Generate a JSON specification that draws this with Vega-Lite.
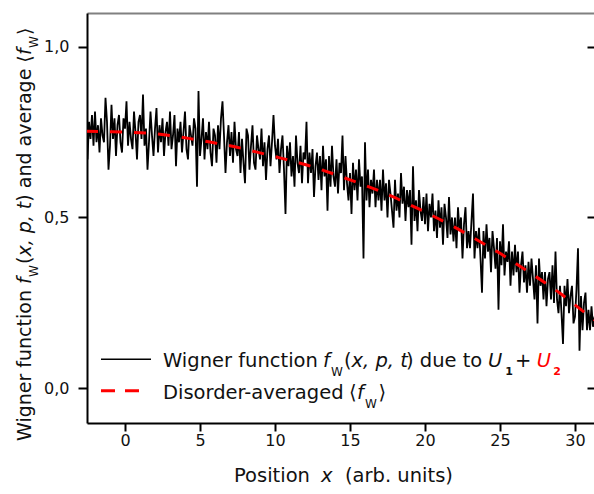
{
"$schema":"https://vega.github.io/schema/vega-lite/v6.json",
"width":507,"height":410,
"autosize":{"type":"none"},
"padding":{"left":87,"top":13,"right":0,"bottom":71},
"background":"white",
"config":{"view":{"stroke":null},"font":"DejaVu Sans","axis":{"grid":false}},
"datasets":{
"noisy":[
{"x":-2.5,"y":0.67},{"x":-2.4,"y":0.78},{"x":-2.3,"y":0.73},{"x":-2.2,"y":0.80},{"x":-2.1,"y":0.71},
{"x":-2.0,"y":0.81},{"x":-1.9,"y":0.72},{"x":-1.8,"y":0.77},{"x":-1.7,"y":0.69},{"x":-1.6,"y":0.79},{"x":-1.5,"y":0.74},{"x":-1.4,"y":0.72},{"x":-1.3,"y":0.85},{"x":-1.2,"y":0.78},{"x":-1.1,"y":0.64},
{"x":-1.0,"y":0.71},{"x":-0.9,"y":0.83},{"x":-0.8,"y":0.73},{"x":-0.7,"y":0.79},{"x":-0.6,"y":0.68},{"x":-0.5,"y":0.77},{"x":-0.4,"y":0.80},{"x":-0.3,"y":0.72},{"x":-0.2,"y":0.69},{"x":-0.1,"y":0.79},
{"x":0.0,"y":0.76},{"x":0.1,"y":0.84},{"x":0.2,"y":0.71},{"x":0.3,"y":0.78},{"x":0.4,"y":0.73},{"x":0.5,"y":0.70},{"x":0.6,"y":0.81},{"x":0.7,"y":0.75},{"x":0.8,"y":0.67},{"x":0.9,"y":0.78},
{"x":1.0,"y":0.80},{"x":1.1,"y":0.73},{"x":1.2,"y":0.86},{"x":1.3,"y":0.71},{"x":1.4,"y":0.76},{"x":1.5,"y":0.64},{"x":1.6,"y":0.72},{"x":1.7,"y":0.81},{"x":1.8,"y":0.74},{"x":1.9,"y":0.68},
{"x":2.0,"y":0.76},{"x":2.1,"y":0.82},{"x":2.2,"y":0.69},{"x":2.3,"y":0.77},{"x":2.4,"y":0.72},{"x":2.5,"y":0.79},{"x":2.6,"y":0.68},{"x":2.7,"y":0.75},{"x":2.8,"y":0.78},{"x":2.9,"y":0.71},
{"x":3.0,"y":0.81},{"x":3.1,"y":0.70},{"x":3.2,"y":0.74},{"x":3.3,"y":0.80},{"x":3.4,"y":0.65},{"x":3.5,"y":0.76},{"x":3.6,"y":0.72},{"x":3.7,"y":0.78},{"x":3.8,"y":0.69},{"x":3.9,"y":0.75},
{"x":4.0,"y":0.81},{"x":4.1,"y":0.70},{"x":4.2,"y":0.67},{"x":4.3,"y":0.77},{"x":4.4,"y":0.74},{"x":4.5,"y":0.71},{"x":4.6,"y":0.79},{"x":4.7,"y":0.76},{"x":4.8,"y":0.59},{"x":4.9,"y":0.87},
{"x":5.0,"y":0.68},{"x":5.1,"y":0.73},{"x":5.2,"y":0.79},{"x":5.3,"y":0.67},{"x":5.4,"y":0.75},{"x":5.5,"y":0.70},{"x":5.6,"y":0.78},{"x":5.7,"y":0.69},{"x":5.8,"y":0.65},{"x":5.9,"y":0.76},
{"x":6.0,"y":0.74},{"x":6.1,"y":0.66},{"x":6.2,"y":0.77},{"x":6.3,"y":0.70},{"x":6.4,"y":0.79},{"x":6.5,"y":0.84},{"x":6.6,"y":0.74},{"x":6.7,"y":0.63},{"x":6.8,"y":0.72},{"x":6.9,"y":0.77},
{"x":7.0,"y":0.68},{"x":7.1,"y":0.75},{"x":7.2,"y":0.66},{"x":7.3,"y":0.78},{"x":7.4,"y":0.70},{"x":7.5,"y":0.68},{"x":7.6,"y":0.75},{"x":7.7,"y":0.63},{"x":7.8,"y":0.73},{"x":7.9,"y":0.66},
{"x":8.0,"y":0.60},{"x":8.1,"y":0.76},{"x":8.2,"y":0.74},{"x":8.3,"y":0.64},{"x":8.4,"y":0.71},{"x":8.5,"y":0.77},{"x":8.6,"y":0.66},{"x":8.7,"y":0.64},{"x":8.8,"y":0.74},{"x":8.9,"y":0.70},
{"x":9.0,"y":0.67},{"x":9.1,"y":0.76},{"x":9.2,"y":0.65},{"x":9.3,"y":0.72},{"x":9.4,"y":0.61},{"x":9.5,"y":0.70},{"x":9.6,"y":0.74},{"x":9.7,"y":0.65},{"x":9.8,"y":0.72},{"x":9.9,"y":0.80},
{"x":10.0,"y":0.71},{"x":10.1,"y":0.67},{"x":10.2,"y":0.73},{"x":10.3,"y":0.63},{"x":10.4,"y":0.70},{"x":10.5,"y":0.74},{"x":10.6,"y":0.64},{"x":10.7,"y":0.51},{"x":10.8,"y":0.71},{"x":10.9,"y":0.65},
{"x":11.0,"y":0.72},{"x":11.1,"y":0.62},{"x":11.2,"y":0.68},{"x":11.3,"y":0.59},{"x":11.4,"y":0.74},{"x":11.5,"y":0.66},{"x":11.6,"y":0.63},{"x":11.7,"y":0.71},{"x":11.8,"y":0.60},{"x":11.9,"y":0.69},
{"x":12.0,"y":0.67},{"x":12.1,"y":0.78},{"x":12.2,"y":0.60},{"x":12.3,"y":0.69},{"x":12.4,"y":0.63},{"x":12.5,"y":0.70},{"x":12.6,"y":0.56},{"x":12.7,"y":0.65},{"x":12.8,"y":0.69},{"x":12.9,"y":0.61},
{"x":13.0,"y":0.68},{"x":13.1,"y":0.58},{"x":13.2,"y":0.71},{"x":13.3,"y":0.62},{"x":13.4,"y":0.67},{"x":13.5,"y":0.52},{"x":13.6,"y":0.68},{"x":13.7,"y":0.59},{"x":13.8,"y":0.71},{"x":13.9,"y":0.62},
{"x":14.0,"y":0.59},{"x":14.1,"y":0.67},{"x":14.2,"y":0.57},{"x":14.3,"y":0.66},{"x":14.4,"y":0.63},{"x":14.5,"y":0.74},{"x":14.6,"y":0.58},{"x":14.7,"y":0.68},{"x":14.8,"y":0.60},{"x":14.9,"y":0.55},
{"x":15.0,"y":0.63},{"x":15.1,"y":0.51},{"x":15.2,"y":0.66},{"x":15.3,"y":0.58},{"x":15.4,"y":0.64},{"x":15.5,"y":0.55},{"x":15.6,"y":0.67},{"x":15.7,"y":0.59},{"x":15.8,"y":0.62},{"x":15.9,"y":0.38},
{"x":16.0,"y":0.72},{"x":16.1,"y":0.55},{"x":16.2,"y":0.64},{"x":16.3,"y":0.53},{"x":16.4,"y":0.61},{"x":16.5,"y":0.57},{"x":16.6,"y":0.64},{"x":16.7,"y":0.53},{"x":16.8,"y":0.61},{"x":16.9,"y":0.55},
{"x":17.0,"y":0.61},{"x":17.1,"y":0.52},{"x":17.2,"y":0.64},{"x":17.3,"y":0.55},{"x":17.4,"y":0.60},{"x":17.5,"y":0.50},{"x":17.6,"y":0.61},{"x":17.7,"y":0.57},{"x":17.8,"y":0.52},{"x":17.9,"y":0.47},
{"x":18.0,"y":0.61},{"x":18.1,"y":0.52},{"x":18.2,"y":0.57},{"x":18.3,"y":0.50},{"x":18.4,"y":0.63},{"x":18.5,"y":0.54},{"x":18.6,"y":0.59},{"x":18.7,"y":0.49},{"x":18.8,"y":0.58},{"x":18.9,"y":0.53},
{"x":19.0,"y":0.58},{"x":19.1,"y":0.42},{"x":19.2,"y":0.65},{"x":19.3,"y":0.49},{"x":19.4,"y":0.55},{"x":19.5,"y":0.46},{"x":19.6,"y":0.58},{"x":19.7,"y":0.52},{"x":19.8,"y":0.49},{"x":19.9,"y":0.56},
{"x":20.0,"y":0.48},{"x":20.1,"y":0.57},{"x":20.2,"y":0.46},{"x":20.3,"y":0.54},{"x":20.4,"y":0.50},{"x":20.5,"y":0.57},{"x":20.6,"y":0.46},{"x":20.7,"y":0.52},{"x":20.8,"y":0.44},{"x":20.9,"y":0.55},
{"x":21.0,"y":0.47},{"x":21.1,"y":0.53},{"x":21.2,"y":0.42},{"x":21.3,"y":0.54},{"x":21.4,"y":0.50},{"x":21.5,"y":0.44},{"x":21.6,"y":0.56},{"x":21.7,"y":0.45},{"x":21.8,"y":0.50},{"x":21.9,"y":0.43},
{"x":22.0,"y":0.50},{"x":22.1,"y":0.41},{"x":22.2,"y":0.53},{"x":22.3,"y":0.46},{"x":22.4,"y":0.50},{"x":22.5,"y":0.38},{"x":22.6,"y":0.48},{"x":22.7,"y":0.53},{"x":22.8,"y":0.41},{"x":22.9,"y":0.46},
{"x":23.0,"y":0.41},{"x":23.1,"y":0.49},{"x":23.2,"y":0.57},{"x":23.3,"y":0.38},{"x":23.4,"y":0.46},{"x":23.5,"y":0.41},{"x":23.6,"y":0.47},{"x":23.7,"y":0.38},{"x":23.8,"y":0.28},{"x":23.9,"y":0.46},
{"x":24.0,"y":0.38},{"x":24.1,"y":0.48},{"x":24.2,"y":0.40},{"x":24.3,"y":0.44},{"x":24.4,"y":0.34},{"x":24.5,"y":0.46},{"x":24.6,"y":0.41},{"x":24.7,"y":0.35},{"x":24.8,"y":0.44},{"x":24.9,"y":0.23},
{"x":25.0,"y":0.43},{"x":25.1,"y":0.36},{"x":25.2,"y":0.48},{"x":25.3,"y":0.33},{"x":25.4,"y":0.40},{"x":25.5,"y":0.37},{"x":25.6,"y":0.43},{"x":25.7,"y":0.30},{"x":25.8,"y":0.40},{"x":25.9,"y":0.33},
{"x":26.0,"y":0.42},{"x":26.1,"y":0.34},{"x":26.2,"y":0.40},{"x":26.3,"y":0.28},{"x":26.4,"y":0.36},{"x":26.5,"y":0.40},{"x":26.6,"y":0.31},{"x":26.7,"y":0.36},{"x":26.8,"y":0.28},{"x":26.9,"y":0.37},
{"x":27.0,"y":0.30},{"x":27.1,"y":0.38},{"x":27.2,"y":0.32},{"x":27.3,"y":0.26},{"x":27.4,"y":0.36},{"x":27.5,"y":0.19},{"x":27.6,"y":0.38},{"x":27.7,"y":0.30},{"x":27.8,"y":0.34},{"x":27.9,"y":0.26},
{"x":28.0,"y":0.34},{"x":28.1,"y":0.24},{"x":28.2,"y":0.32},{"x":28.3,"y":0.34},{"x":28.4,"y":0.26},{"x":28.5,"y":0.36},{"x":28.6,"y":0.25},{"x":28.7,"y":0.40},{"x":28.8,"y":0.26},{"x":28.9,"y":0.22},
{"x":29.0,"y":0.30},{"x":29.1,"y":0.22},{"x":29.2,"y":0.13},{"x":29.3,"y":0.30},{"x":29.4,"y":0.24},{"x":29.5,"y":0.32},{"x":29.6,"y":0.22},{"x":29.7,"y":0.27},{"x":29.8,"y":0.30},{"x":29.9,"y":0.19},
{"x":30.0,"y":0.21},{"x":30.1,"y":0.29},{"x":30.2,"y":0.41},{"x":30.3,"y":0.11},{"x":30.4,"y":0.27},{"x":30.5,"y":0.17},{"x":30.6,"y":0.25},{"x":30.7,"y":0.28},{"x":30.8,"y":0.17},{"x":30.9,"y":0.23},
{"x":31.0,"y":0.17},{"x":31.1,"y":0.24},{"x":31.2,"y":0.18},{"x":31.3,"y":0.21}
],
"mean":[
{"x":-2.6,"y":0.752},{"x":-1,"y":0.751},{"x":0,"y":0.750},{"x":1,"y":0.748},{"x":2,"y":0.745},{"x":3,"y":0.740},{"x":4,"y":0.733},{"x":5,"y":0.726},{"x":6,"y":0.718},{"x":7,"y":0.710},{"x":8,"y":0.700},{"x":9,"y":0.689},{"x":10,"y":0.678},{"x":11,"y":0.667},{"x":12,"y":0.655},{"x":13,"y":0.641},{"x":14,"y":0.626},{"x":15,"y":0.610},{"x":16,"y":0.594},{"x":17,"y":0.577},{"x":18,"y":0.558},{"x":19,"y":0.537},{"x":20,"y":0.516},{"x":21,"y":0.494},{"x":22,"y":0.471},{"x":23,"y":0.446},{"x":24,"y":0.421},{"x":25,"y":0.395},{"x":26,"y":0.367},{"x":27,"y":0.338},{"x":28,"y":0.309},{"x":29,"y":0.278},{"x":30,"y":0.244},{"x":31,"y":0.210},{"x":31.4,"y":0.197}
]
},
"resolve":{"axis":{"x":"independent","y":"independent"}},
"layer":[
{"data":{"name":"noisy"},
 "mark":{"type":"line","color":"black","strokeWidth":1.8,"clip":true},
 "encoding":{
  "x":{"field":"x","type":"quantitative","scale":{"domain":[-2.533,31.267],"nice":false,"zero":false},
   "axis":{"orient":"bottom","values":[0,5,10,15,20,25,30],"title":null,"domainColor":"black","domainWidth":2,"tickColor":"black","tickWidth":2,"tickSize":8,"labelFont":"DejaVu Sans","labelFontSize":16,"labelColor":"#111","labelPadding":1}},
  "y":{"field":"y","type":"quantitative","scale":{"domain":[-0.1016,1.0984],"nice":false,"zero":false},
   "axis":{"orient":"left","values":[0,0.5,1],"title":null,"domainColor":"black","domainWidth":2,"tickColor":"black","tickWidth":2,"tickSize":9,"labelPadding":9,"labelFont":"DejaVu Sans","labelFontSize":16,"labelColor":"#111","labelExpr":"replace(format(datum.value,'.1f'),'.',',')"}}
 }},
{"data":{"name":"mean"},
 "mark":{"type":"line","color":"#ff0000","strokeWidth":3,"strokeDash":[12,12],"clip":true,"interpolate":"monotone"},
 "encoding":{
  "x":{"field":"x","type":"quantitative","axis":{"orient":"top","ticks":false,"labels":false,"title":null,"domainColor":"#808080","domainWidth":2}},
  "y":{"field":"y","type":"quantitative","axis":{"orient":"right","domain":false,"labels":false,"title":null,"tickSize":-7,"tickWidth":2,"tickColor":"black","values":[0,0.5,1]}}
 }},
{"data":{"values":[{}]},"mark":{"type":"rule","color":"black","strokeWidth":1.4},
 "encoding":{"x":{"datum":-1.6,"type":"quantitative","axis":null},"x2":{"datum":1.733},"y":{"datum":0.0849,"type":"quantitative","axis":null}}},
{"data":{"values":[{}]},"mark":{"type":"rule","color":"#ff0000","strokeWidth":3,"strokeDash":[14,10]},
 "encoding":{"x":{"datum":-1.6,"type":"quantitative","axis":null},"x2":{"datum":0.933},"y":{"datum":-0.007,"type":"quantitative","axis":null}}},

{"data":{"values":[{}]},"mark":{"type":"text","align":"left","baseline":"alphabetic","font":"DejaVu Sans","fontSize":19.5,"color":"#111"},
 "encoding":{"x":{"datum":2.533,"type":"quantitative","axis":null},"y":{"datum":0.0623,"type":"quantitative","axis":null},"text":{"value":"Wigner function"}}},
{"data":{"values":[{}]},"mark":{"type":"text","align":"left","baseline":"alphabetic","font":"DejaVu Sans","fontSize":19.5,"fontStyle":"italic","color":"#111"},
 "encoding":{"x":{"datum":13.2,"type":"quantitative","axis":null},"y":{"datum":0.0623,"type":"quantitative","axis":null},"text":{"value":"f"}}},
{"data":{"values":[{}]},"mark":{"type":"text","align":"left","baseline":"alphabetic","font":"DejaVu Sans","fontSize":12,"color":"#111"},
 "encoding":{"x":{"datum":13.733,"type":"quantitative","axis":null},"y":{"datum":0.036,"type":"quantitative","axis":null},"text":{"value":"W"}}},
{"data":{"values":[{}]},"mark":{"type":"text","align":"left","baseline":"alphabetic","font":"DejaVu Sans","fontSize":19.5,"color":"#111"},
 "encoding":{"x":{"datum":14.6,"type":"quantitative","axis":null},"y":{"datum":0.0623,"type":"quantitative","axis":null},"text":{"value":"("}}},
{"data":{"values":[{}]},"mark":{"type":"text","align":"left","baseline":"alphabetic","font":"DejaVu Sans","fontSize":19.5,"fontStyle":"italic","color":"#111"},
 "encoding":{"x":{"datum":15.1,"type":"quantitative","axis":null},"y":{"datum":0.0623,"type":"quantitative","axis":null},"text":{"value":"x, p, t"}}},
{"data":{"values":[{}]},"mark":{"type":"text","align":"left","baseline":"alphabetic","font":"DejaVu Sans","fontSize":19.5,"color":"#111"},
 "encoding":{"x":{"datum":18.733,"type":"quantitative","axis":null},"y":{"datum":0.0623,"type":"quantitative","axis":null},"text":{"value":") due to"}}},
{"data":{"values":[{}]},"mark":{"type":"text","align":"left","baseline":"alphabetic","font":"DejaVu Sans","fontSize":19.5,"fontStyle":"italic","color":"#111"},
 "encoding":{"x":{"datum":24.2,"type":"quantitative","axis":null},"y":{"datum":0.0623,"type":"quantitative","axis":null},"text":{"value":"U"}}},
{"data":{"values":[{}]},"mark":{"type":"text","align":"left","baseline":"alphabetic","font":"DejaVu Sans","fontSize":11,"fontWeight":"bold","color":"#111"},
 "encoding":{"x":{"datum":25.35,"type":"quantitative","axis":null},"y":{"datum":0.0389,"type":"quantitative","axis":null},"text":{"value":"1"}}},
{"data":{"values":[{}]},"mark":{"type":"text","align":"left","baseline":"alphabetic","font":"DejaVu Sans","fontSize":19.5,"color":"#111"},
 "encoding":{"x":{"datum":26.0,"type":"quantitative","axis":null},"y":{"datum":0.0623,"type":"quantitative","axis":null},"text":{"value":"+"}}},
{"data":{"values":[{}]},"mark":{"type":"text","align":"left","baseline":"alphabetic","font":"DejaVu Sans","fontSize":19.5,"fontStyle":"italic","color":"#ff0000"},
 "encoding":{"x":{"datum":27.45,"type":"quantitative","axis":null},"y":{"datum":0.0623,"type":"quantitative","axis":null},"text":{"value":"U"}}},
{"data":{"values":[{}]},"mark":{"type":"text","align":"left","baseline":"alphabetic","font":"DejaVu Sans","fontSize":11,"fontWeight":"bold","color":"#ff0000"},
 "encoding":{"x":{"datum":28.55,"type":"quantitative","axis":null},"y":{"datum":0.0389,"type":"quantitative","axis":null},"text":{"value":"2"}}},

{"data":{"values":[{}]},"mark":{"type":"text","align":"left","baseline":"alphabetic","font":"DejaVu Sans","fontSize":19.5,"color":"#111"},
 "encoding":{"x":{"datum":2.533,"type":"quantitative","axis":null},"y":{"datum":-0.0313,"type":"quantitative","axis":null},"text":{"value":"Disorder-averaged"}}},
{"data":{"values":[{}]},"mark":{"type":"text","align":"left","baseline":"alphabetic","font":"DejaVu Sans","fontSize":19.5,"color":"#111"},
 "encoding":{"x":{"datum":14.933,"type":"quantitative","axis":null},"y":{"datum":-0.0313,"type":"quantitative","axis":null},"text":{"value":"⟨"}}},
{"data":{"values":[{}]},"mark":{"type":"text","align":"left","baseline":"alphabetic","font":"DejaVu Sans","fontSize":19.5,"fontStyle":"italic","color":"#111"},
 "encoding":{"x":{"datum":15.467,"type":"quantitative","axis":null},"y":{"datum":-0.0313,"type":"quantitative","axis":null},"text":{"value":"f"}}},
{"data":{"values":[{}]},"mark":{"type":"text","align":"left","baseline":"alphabetic","font":"DejaVu Sans","fontSize":12,"color":"#111"},
 "encoding":{"x":{"datum":16.0,"type":"quantitative","axis":null},"y":{"datum":-0.0577,"type":"quantitative","axis":null},"text":{"value":"W"}}},
{"data":{"values":[{}]},"mark":{"type":"text","align":"left","baseline":"alphabetic","font":"DejaVu Sans","fontSize":19.5,"color":"#111"},
 "encoding":{"x":{"datum":16.9,"type":"quantitative","axis":null},"y":{"datum":-0.0313,"type":"quantitative","axis":null},"text":{"value":"⟩"}}},

{"data":{"values":[{}]},"mark":{"type":"text","align":"left","baseline":"alphabetic","font":"DejaVu Sans","fontSize":19.5,"color":"#111"},
 "encoding":{"x":{"datum":7.267,"type":"quantitative","axis":null},"y":{"datum":-0.2733,"type":"quantitative","axis":null},"text":{"value":"Position"}}},
{"data":{"values":[{}]},"mark":{"type":"text","align":"left","baseline":"alphabetic","font":"DejaVu Sans","fontSize":19.5,"fontStyle":"italic","color":"#111"},
 "encoding":{"x":{"datum":13.067,"type":"quantitative","axis":null},"y":{"datum":-0.2733,"type":"quantitative","axis":null},"text":{"value":"x"}}},
{"data":{"values":[{}]},"mark":{"type":"text","align":"left","baseline":"alphabetic","font":"DejaVu Sans","fontSize":19.5,"color":"#111"},
 "encoding":{"x":{"datum":14.667,"type":"quantitative","axis":null},"y":{"datum":-0.2733,"type":"quantitative","axis":null},"text":{"value":"(arb. units)"}}},

{"data":{"values":[{}]},"mark":{"type":"text","align":"left","baseline":"alphabetic","angle":270,"font":"DejaVu Sans","fontSize":19,"color":"#111"},
 "encoding":{"x":{"datum":-6.267,"type":"quantitative","axis":null},"y":{"datum":-0.1542,"type":"quantitative","axis":null},"text":{"value":"Wigner function"}}},
{"data":{"values":[{}]},"mark":{"type":"text","align":"left","baseline":"alphabetic","angle":270,"font":"DejaVu Sans","fontSize":19,"fontStyle":"italic","color":"#111"},
 "encoding":{"x":{"datum":-6.267,"type":"quantitative","axis":null},"y":{"datum":0.3052,"type":"quantitative","axis":null},"text":{"value":"f"}}},
{"data":{"values":[{}]},"mark":{"type":"text","align":"left","baseline":"alphabetic","angle":270,"font":"DejaVu Sans","fontSize":12,"color":"#111"},
 "encoding":{"x":{"datum":-5.8,"type":"quantitative","axis":null},"y":{"datum":0.3257,"type":"quantitative","axis":null},"text":{"value":"W"}}},
{"data":{"values":[{}]},"mark":{"type":"text","align":"left","baseline":"alphabetic","angle":270,"font":"DejaVu Sans","fontSize":19,"color":"#111"},
 "encoding":{"x":{"datum":-6.267,"type":"quantitative","axis":null},"y":{"datum":0.3637,"type":"quantitative","axis":null},"text":{"value":"("}}},
{"data":{"values":[{}]},"mark":{"type":"text","align":"left","baseline":"alphabetic","angle":270,"font":"DejaVu Sans","fontSize":19,"fontStyle":"italic","color":"#111"},
 "encoding":{"x":{"datum":-6.267,"type":"quantitative","axis":null},"y":{"datum":0.3854,"type":"quantitative","axis":null},"text":{"value":"x, p, t"}}},
{"data":{"values":[{}]},"mark":{"type":"text","align":"left","baseline":"alphabetic","angle":270,"font":"DejaVu Sans","fontSize":19,"color":"#111"},
 "encoding":{"x":{"datum":-6.267,"type":"quantitative","axis":null},"y":{"datum":0.5461,"type":"quantitative","axis":null},"text":{"value":") and average ⟨"}}},
{"data":{"values":[{}]},"mark":{"type":"text","align":"left","baseline":"alphabetic","angle":270,"font":"DejaVu Sans","fontSize":19,"fontStyle":"italic","color":"#111"},
 "encoding":{"x":{"datum":-6.267,"type":"quantitative","axis":null},"y":{"datum":0.9754,"type":"quantitative","axis":null},"text":{"value":"f"}}},
{"data":{"values":[{}]},"mark":{"type":"text","align":"left","baseline":"alphabetic","angle":270,"font":"DejaVu Sans","fontSize":12,"color":"#111"},
 "encoding":{"x":{"datum":-5.8,"type":"quantitative","axis":null},"y":{"datum":0.9959,"type":"quantitative","axis":null},"text":{"value":"W"}}},
{"data":{"values":[{}]},"mark":{"type":"text","align":"left","baseline":"alphabetic","angle":270,"font":"DejaVu Sans","fontSize":19,"color":"#111"},
 "encoding":{"x":{"datum":-6.267,"type":"quantitative","axis":null},"y":{"datum":1.0339,"type":"quantitative","axis":null},"text":{"value":"⟩"}}}
]
}
